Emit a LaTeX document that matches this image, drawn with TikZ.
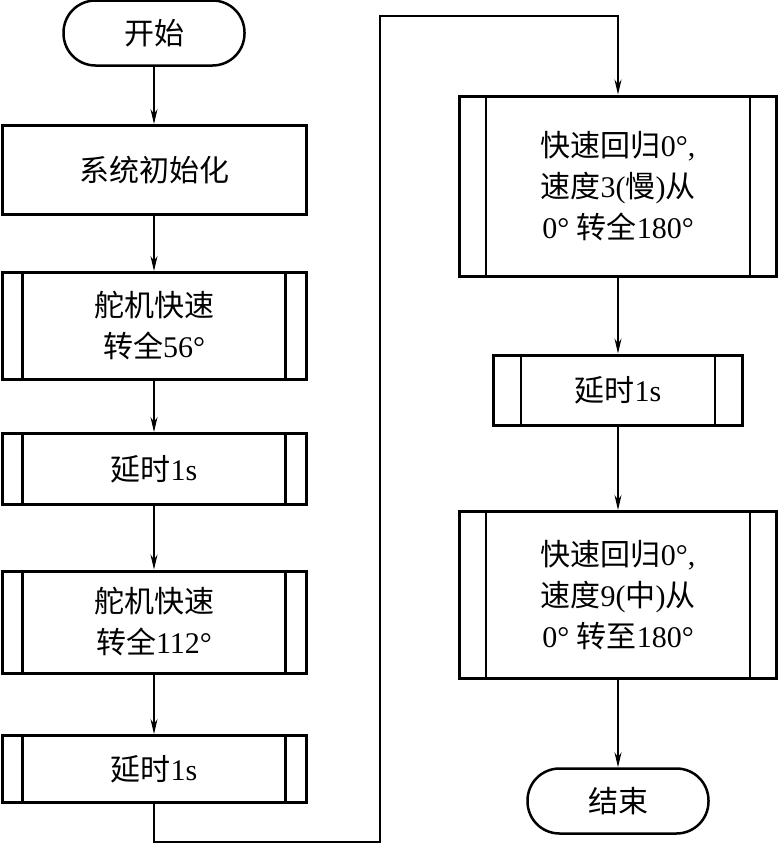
\documentclass[tikz,border=0pt]{standalone}
\usepackage{fontspec}
\setmainfont{Liberation Serif}
\newfontfamily\cjk{Noto Sans CJK SC}
\usetikzlibrary{arrows.meta}
\newcommand{\zh}[1]{{\cjk #1}}

\begin{document}
\begin{tikzpicture}[x=1pt, y=-1pt, every text node part/.style={align=center},
        font=\fontsize{30}{41}\selectfont,
        box/.style={draw, line width=3pt, minimum width=304pt, inner sep=0pt},
        term/.style={draw, line width=2.5pt, rounded corners=32pt, minimum width=181pt, minimum height=65pt, inner sep=0pt},
        flow/.style={line width=1.3pt, -{Stealth[length=15pt, width=7pt, inset=5pt]}}]
            \useasboundingbox (0,0) rectangle (779,844);

            \node[term] (start) at(154,33) {\zh{开始}};
            \node[box, minimum height=89pt] (b1) at(154,170) {\zh{系统初始化}};
            \node[box, minimum height=107pt] (b2) at(154,326) {\zh{舵机快速}\\\zh{转全}56°};
            \node[box, minimum height=71pt] (b3) at(154,469) {\zh{延时}1s};
            \node[box, minimum height=102pt] (b4) at(154,622) {\zh{舵机快速}\\\zh{转全}112°};
            \node[box, minimum height=67pt] (b5) at(154,769) {\zh{延时}1s};

            \node[box, minimum width=317pt, minimum height=180pt, align=left] (r1) at(618,186) {\zh{快速回归}0°,\\\zh{速度}3(\zh{慢})\zh{从}\\0°\ \zh{转全}180°};
            \node[box, minimum width=249pt, minimum height=70pt] (r2) at(618,390) {\zh{延时}1s};
            \node[box, minimum width=317pt, minimum height=167pt, align=left] (r3) at(618,595) {\zh{快速回归}0°,\\\zh{速度}9(\zh{中})\zh{从}\\0°\ \zh{转至}180°};
            \node[term] (end) at(618,801) {\zh{结束}};

            \foreach \n/\d in {b2/22,b3/22,b4/22,b5/22,r1/28,r2/29,r3/28} {
                \draw[line width=2.5pt] ([xshift=\d pt]\n.north west) -- ([xshift=\d pt]\n.south west);
                \draw[line width=2.5pt] ([xshift=-\d pt]\n.north east) -- ([xshift=-\d pt]\n.south east);
            }

            \coordinate (c1) at(380,842);
            \coordinate (c2) at(380,16);

            \draw[flow] (start) -- (b1);
            \draw[flow] (b1) -- (b2);
            \draw[flow] (b2) -- (b3);
            \draw[flow] (b3) -- (b4);
            \draw[flow] (b4) -- (b5);
            \draw[flow, line width=1.8pt] (b5.south) |- (c1) -- (c2) -| (r1.north);
            \draw[flow] (r1) -- (r2);
            \draw[flow] (r2) -- (r3);
            \draw[flow] (r3) -- (end);

        \end{tikzpicture}
\end{document}
